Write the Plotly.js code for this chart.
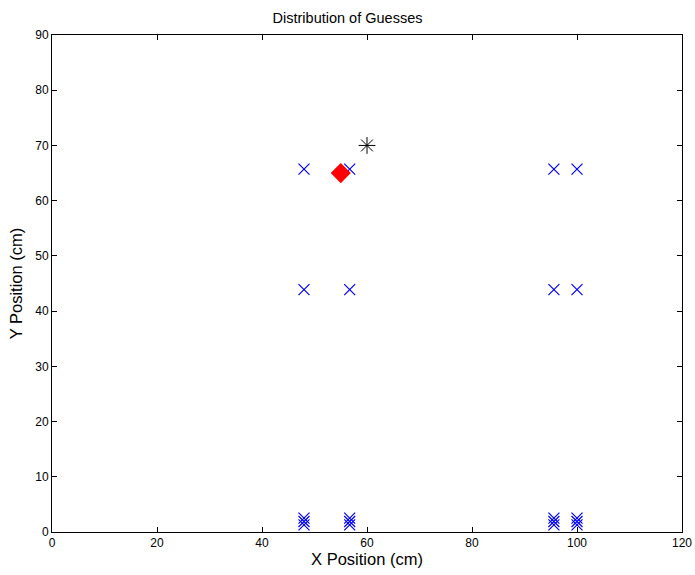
<!DOCTYPE html>
<html>
<head>
<meta charset="utf-8">
<script src="https://cdn.plot.ly/plotly-3.0.1.min.js"></script>
<style>body{margin:0;background:#fff}#chart{width:695px;height:575px}</style>
</head>
<body>
<div id="chart"></div>
<script>
const guessX = [48, 56.7, 95.6, 100, 48, 56.7, 95.6, 100,
                48, 48, 48, 56.7, 56.7, 56.7, 95.6, 95.6, 95.6, 100, 100, 100];
const guessY = [65.7, 65.7, 65.7, 65.7, 43.9, 43.9, 43.9, 43.9,
                1.3, 1.9, 2.5, 1.3, 1.9, 2.5, 1.3, 1.9, 2.5, 1.3, 1.9, 2.5];
const meanX = [55];
const meanY = [65];
const trueX = [60];
const trueY = [70];
const xTicks = [0, 20, 40, 60, 80, 100, 120];
const yTicks = [0, 10, 20, 30, 40, 50, 60, 70, 80, 90];

const traces = [
  {x: guessX, y: guessY, mode: 'markers', type: 'scatter',
   marker: {symbol: 'x-thin-open', size: 11, color: '#0000ff', line: {color: '#0000ff', width: 1.2}}},
  {x: meanX, y: meanY, mode: 'markers', type: 'scatter',
   marker: {symbol: 'diamond', size: 15.5, color: '#ff0000', line: {width: 0}}},
  {x: trueX, y: trueY, mode: 'markers', type: 'scatter',
   marker: {symbol: 'asterisk-open', size: 14, color: '#000000', line: {color: '#000000', width: 1}}}
];

const axisCommon = {
  showgrid: false, zeroline: false, showline: true, mirror: 'ticks',
  linecolor: '#000', linewidth: 1, ticks: 'inside', ticklen: 5, tickcolor: '#000',
  tickfont: {family: 'Liberation Sans, Arial', size: 12, color: '#000'}
};

const layout = {
  width: 695, height: 575,
  margin: {l: 52, r: 13, t: 35, b: 43},
  paper_bgcolor: '#fff', plot_bgcolor: '#fff',
  showlegend: false,
  font: {family: 'Liberation Sans, Arial', color: '#000'},
  title: {text: 'Distribution of Guesses', font: {size: 14.5, color: '#000'}, x: 0.5, xanchor: 'center', y: 0.968, yanchor: 'middle'},
  xaxis: Object.assign({}, axisCommon, {range: [0, 120], tickvals: xTicks, ticktext: xTicks.map(String),
    title: {text: 'X Position (cm)', font: {size: 16.5, color: '#000'}, standoff: 3}}),
  yaxis: Object.assign({}, axisCommon, {range: [0, 90], tickvals: yTicks, ticktext: yTicks.map(String),
    title: {text: 'Y Position (cm)', font: {size: 16.5, color: '#000'}, standoff: 8}})
};

Plotly.newPlot('chart', traces, layout, {displayModeBar: false, staticPlot: true});
</script>
</body>
</html>
